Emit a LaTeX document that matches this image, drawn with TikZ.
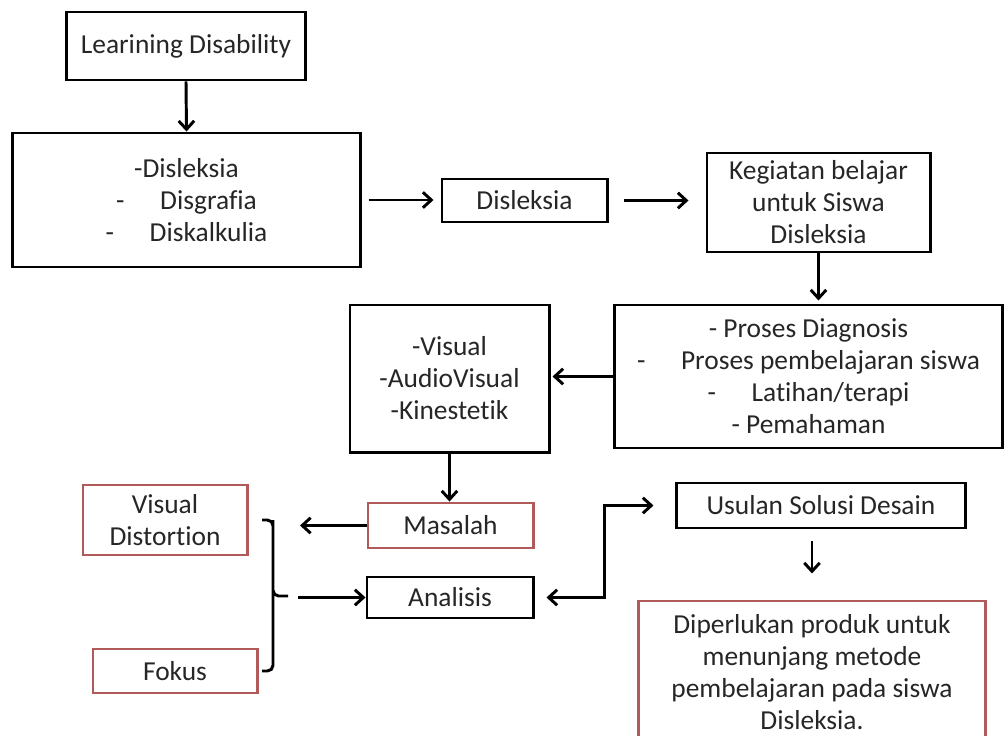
\documentclass[tikz,border=0pt]{standalone}
\usepackage{fontspec}
\setmainfont[Ligatures=NoCommon]{Carlito}
\usepackage{xcolor}
\usepackage{tikz}
\usetikzlibrary{arrows.meta,positioning,calc}
\definecolor{boxred}{HTML}{B05A5A}
\definecolor{txtgray}{HTML}{262626}
\tikzset{
  blk/.style={draw=black, line width=2.1pt, inner sep=0pt, align=center, text=txtgray,
    font=\fontsize{19.5}{22.8}\selectfont},
  redbox/.style={blk, draw=boxred},
  arr/.style={line width=2.1pt, -{Straight Barb[length=6pt,width=11pt]}}
}

\begin{document}
\begin{tikzpicture}[x=0.025cm,y=-0.025cm]
\useasboundingbox (0,0) rectangle (1004,735);
% top row
\node[blk, minimum width=5.95cm, minimum height=1.7cm] (ld) at (186,46) {Learining Disability};
\node[blk, minimum width=8.675cm, minimum height=3.35cm] (types) at (186.5,200)
  {-Disleksia\\-\hspace{1.3em}Disgrafia\\-\hspace{1.3em}Diskalkulia};
\node[blk, minimum width=4.125cm, minimum height=1.075cm] (dis) at (524.5,200.5) {Disleksia};
\node[blk, minimum width=5.575cm, minimum height=2.475cm] (keg) at (818.5,202.5)
  {Kegiatan belajar\\untuk Siswa\\Disleksia};
% middle row
\node[blk, minimum width=9.675cm, minimum height=3.575cm] (pro) at (808.5,376.5)
  {- Proses Diagnosis\\-\hspace{1.3em}Proses pembelajaran siswa\\-\hspace{1.3em}Latihan/terapi\\- Pemahaman};
\node[blk, minimum width=4.975cm, minimum height=3.675cm] (med) at (449.5,378.5)
  {-Visual\\-AudioVisual\\-Kinestetik};
% bottom row
\node[redbox, minimum width=4.125cm, minimum height=1.125cm] (mas) at (450.5,525.5) {Masalah};
\node[redbox, minimum width=4.1cm, minimum height=1.75cm] (vd) at (165,520) {Visual\\Distortion};
\node[redbox, minimum width=4.1cm, minimum height=1.1cm] (fok) at (175,671) {Fokus};
\node[blk, minimum width=4.15cm, minimum height=1.025cm] (ana) at (450,597.5) {Analisis};
\node[blk, minimum width=7.2cm, minimum height=1.125cm] (usu) at (821,505.5) {Usulan Solusi Desain};
\node[redbox, minimum width=8.65cm, minimum height=3.55cm] (dip) at (812,672)
  {Diperlukan produk untuk\\menunjang metode\\pembelajaran pada siswa\\Disleksia.};

\coordinate (mastip) at (300,525.5);
\coordinate (brtop) at (262,520);
\coordinate (brbot) at (262,671);
\coordinate (brtip) at (288,596);
\coordinate (brout) at (298,597.5);

% connectors
\draw[arr] (ld.south) -- (types.north);
\draw[arr, shorten <=0.175cm, shorten >=0.175cm] (types.east) -- (types.east -| dis.west);
\draw[arr, shorten <=0.375cm, shorten >=0.425cm] (dis.east) -- (dis.east -| keg.west);
\draw[arr, shorten >=0.075cm] (keg.south) -- (keg.south |- pro.north);
\draw[arr, shorten >=0.05cm] (pro.west) -- (pro.west -| med.east);
\draw[arr] (med.south) -- (med.south |- mas.north);
\draw[arr] (mas.west) -- (mastip);
\draw[line width=2.1pt, rounded corners=4pt] (brtop) -- ++(11,0) |- (brtip) (brtop) ++(11,0) |- (brbot);
\draw[arr] (brout) -- (ana.west);
\draw[line width=2.1pt, {Straight Barb[length=6pt,width=11pt]}-{Straight Barb[length=6pt,width=11pt]},
  shorten <=0.3cm, shorten >=0.55cm] (ana.east) -- ++(70,0) |- (usu.west);
\draw[arr, shorten <=0.3cm, shorten >=0.65cm] (usu.south -| dip.north) -- (dip.north);
\end{tikzpicture}
\end{document}
